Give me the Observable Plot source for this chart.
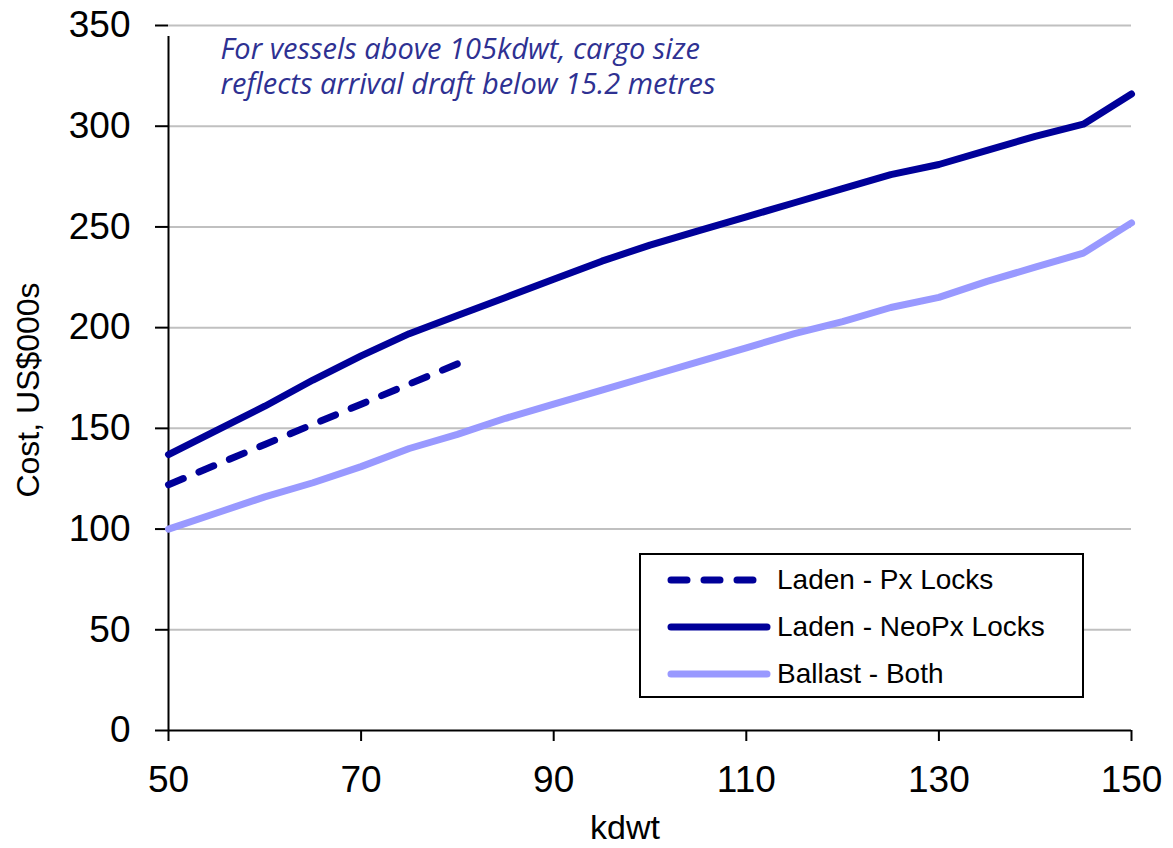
<!DOCTYPE html>
<html>
<head>
<meta charset="utf-8">
<script src="https://cdn.jsdelivr.net/npm/d3@7"></script>
<script src="https://cdn.jsdelivr.net/npm/@observablehq/plot@0.6"></script>
<style>
  html, body { margin: 0; padding: 0; background: #fff; }
  #wrap { position: relative; width: 1173px; height: 848px; }
  #legend {
    position: absolute; left: 639px; top: 553px; width: 441px; height: 141px;
    border: 2px solid #000; background: #fff; box-sizing: content-box;
    font-family: "Liberation Sans", Arial, sans-serif; font-size: 28px; color: #000;
  }
  #legend .row { position: absolute; left: 0; height: 40px; display: flex; align-items: center; }
  #legend svg { margin-left: 26px; }
  #legend span { margin-left: 6px; }
</style>
</head>
<body>
<div id="wrap"></div>
<script>
const kdwt = [50,55,60,65,70,75,80,85,90,95,100,105,110,115,120,125,130,135,140,145,150];
const ladenNeoPx = [137,149,161,174,186,197,206,215,224,233,241,248,255,262,269,276,281,288,295,301,316];
const kdwtPx = [50,55,60,65,70,75,80];
const ladenPx = [122,132,142,152,162,172,182];
const ballast = [100,108,116,123,131,140,147,155,162,169,176,183,190,197,203,210,215,223,230,237,252];
const xTicks = [50,70,90,110,130,150];
const yTicks = [0,50,100,150,200,250,300,350];
const seriesNames = ["Laden - Px Locks","Laden - NeoPx Locks","Ballast - Both"];
const seriesColors = ["#000099","#000099","#9999ff"];
const note = ["For vessels above 105kdwt, cargo size","reflects arrival draft below 15.2 metres"];
const yTitle = "Cost, US$000s";
const xTitle = "kdwt";

const neo = kdwt.map((k,i) => ({k, v: ladenNeoPx[i]}));
const bal = kdwt.map((k,i) => ({k, v: ballast[i]}));
const px = kdwtPx.map((k,i) => ({k, v: ladenPx[i]}));

const font = "'Liberation Sans', Arial, sans-serif";
const chart = Plot.plot({
  width: 1173, height: 848,
  marginLeft: 168, marginRight: 42, marginTop: 25, marginBottom: 118,
  style: {fontFamily: font, background: "#fff", color: "#000", overflow: "visible"},
  x: {domain: [50,150]},
  y: {domain: [0,350]},
  marks: [
    Plot.ruleY(yTicks.filter(d => d > 0), {x1: 50, x2: 150, stroke: "#c0c0c0", strokeWidth: 2}),
    Plot.axisY({ticks: yTicks, tickSize: 13, tickPadding: 25, fontSize: 37, label: null, strokeWidth: 2}),
    Plot.axisX({ticks: xTicks, tickSize: 11, tickPadding: 24, fontSize: 37, label: null, strokeWidth: 2}),
    Plot.ruleX([50], {y1: 0, y2: 350, stroke: "#000", strokeWidth: 2, insetBottom: -11}),
    Plot.ruleY([0], {x1: 50, x2: 150, stroke: "#000", strokeWidth: 2}),
    Plot.line(bal, {x: "k", y: "v", stroke: seriesColors[2], strokeWidth: 7, strokeLinejoin: "round"}),
    Plot.line(neo, {x: "k", y: "v", stroke: seriesColors[1], strokeWidth: 7, strokeLinejoin: "round"}),
    Plot.line(px, {x: "k", y: "v", stroke: seriesColors[0], strokeWidth: 7, strokeDasharray: "16,17", strokeLinecap: "round"}),
    Plot.text([note.join("\n")], {frameAnchor: "top-left", dx: 52, dy: 8, lineAnchor: "top", textAnchor: "start",
      fontFamily: "'Open Sans', sans-serif", fontStyle: "italic", fontSize: 29, lineHeight: 1.22, fill: "#2e3192"}),
    Plot.text([yTitle], {frameAnchor: "left", textAnchor: "middle", rotate: -90, dx: -140, dy: 12, fontSize: 32, fill: "#000"}),
    Plot.text([xTitle], {frameAnchor: "bottom", dx: -25, dy: 108, fontSize: 34, fill: "#000"})
  ]
});
const wrap = document.getElementById("wrap");
wrap.appendChild(chart);

const legend = document.createElement("div");
legend.id = "legend";
const rowsTop = [5, 52, 99];
seriesNames.forEach((name, i) => {
  const row = document.createElement("div");
  row.className = "row";
  row.style.top = rowsTop[i] + "px";
  const dash = i === 0 ? ' stroke-dasharray="16,17"' : '';
  row.innerHTML = `<svg width="104" height="12"><line x1="4" y1="6" x2="100" y2="6" stroke="${seriesColors[i]}" stroke-width="7" stroke-linecap="round"${dash}/></svg><span>${name}</span>`;
  legend.appendChild(row);
});
wrap.appendChild(legend);
</script>
</body>
</html>
